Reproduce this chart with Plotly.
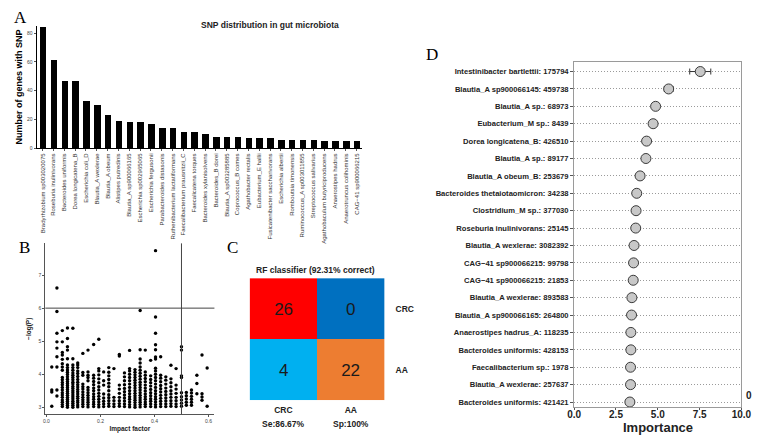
import plotly.graph_objects as go

W, H = 760, 436

# ---------------- Panel A data ----------------
a_species = [
    "Bradyrhizobium sp003020075", "Roseburia inulinivorans", "Bacteroides uniformis",
    "Dorea longicatena_B", "Escherichia coli_D", "Blautia_A wexlerae", "Blautia_A obeum",
    "Alistipes putredinis", "Blautia_A sp900066165", "Escherichia sp002965065",
    "Escherichia fergusonii", "Parabacteroides distasonis", "Ruthenibacterium lactatiformans",
    "Faecalibacterium prausnitzii_C", "Faecalicatena torques", "Bacteroides xylanisolvens",
    "Bacteroides_B dorei", "Blautia_A sp003285885", "Coprococcus_B comes",
    "Agathobacter rectalis", "Eubacterium_E hallii", "Fusicatenibacter saccharivorans",
    "Escherichia albertii", "Romboutsia timonensis", "Ruminococcus_A sp003011855",
    "Streptococcus salivarius", "Agathobaculum butyriciproducens", "Anaerostipes hadrus",
    "Anaerotruncus colihominis", "CAG\u221241 sp900066215",
]
a_counts = [84, 61, 47, 47, 33, 30, 23, 19, 18, 18, 17, 14, 14, 11, 11, 10, 8, 8, 8,
            7, 7, 7, 6, 6, 6, 6, 5, 5, 5, 5]
a_yticks = [0, 20, 40, 60, 80]

# ---------------- Panel B data (impact factor column, -log(P) values) ----------------
b_columns = [
    (0.020, [3.03, 3.46, 3.52, 4.22]),
    (0.039, [3.34, 3.52, 4.22, 4.53, 4.79, 4.98, 5.24, 5.90, 6.61]),
    (0.059, [3.02, 3.08, 3.15, 3.22, 3.30, 3.37, 3.44, 3.52, 3.60, 3.68, 3.75, 3.83, 3.90,
             4.12, 4.22, 4.32, 4.45, 4.58, 4.66, 4.98, 5.32]),
    (0.078, [3.00, 3.06, 3.12, 3.18, 3.24, 3.30, 3.36, 3.42, 3.48, 3.54, 3.60, 3.66, 3.72,
             3.78, 3.85, 3.92, 3.99, 4.06, 4.13, 4.20, 4.28, 4.47, 4.73, 4.83, 5.08, 5.40]),
    (0.098, [3.00, 3.06, 3.12, 3.18, 3.25, 3.31, 3.37, 3.44, 3.50, 3.57, 3.63, 3.70, 3.76,
             3.83, 3.90, 3.97, 4.04, 4.12, 4.20, 4.28, 4.47, 5.39]),
    (0.116, [3.01, 3.07, 3.14, 3.20, 3.27, 3.33, 3.40, 3.47, 3.54, 3.61, 3.68, 3.76, 3.84,
             3.93, 4.02, 4.10, 4.20, 4.28, 4.34]),
    (0.135, [3.02, 3.09, 3.16, 3.23, 3.30, 3.38, 3.46, 3.55, 3.62, 3.70, 3.97, 4.05, 4.63]),
    (0.154, [3.01, 3.08, 3.15, 3.22, 3.29, 3.36, 3.44, 3.52, 3.60, 3.80, 3.90, 3.97, 4.07, 4.73]),
    (0.175, [3.02, 3.09, 3.16, 3.24, 3.32, 3.40, 3.50, 3.58, 3.68, 3.78, 3.88, 3.97, 4.90]),
    (0.194, [3.01, 3.08, 3.16, 3.24, 3.33, 3.42, 3.52, 3.62, 3.74, 3.86, 3.98, 4.10, 4.17, 5.06]),
    (0.212, [3.02, 3.10, 3.18, 3.28, 3.40, 3.67, 3.80, 4.07]),
    (0.231, [3.03, 3.11, 3.20, 3.29, 3.38, 3.50, 3.62, 3.73, 3.84, 3.95, 4.06, 4.20]),
    (0.250, [3.02, 3.10, 3.20, 3.30, 4.17]),
    (0.270, [3.03, 3.11, 3.20, 3.30, 3.42, 3.55, 3.67, 4.55, 4.60]),
    (0.289, [3.02, 3.10, 3.19, 3.28, 3.37, 3.47, 3.57, 3.68, 3.80, 3.92, 4.04]),
    (0.308, [3.01, 3.08, 3.16, 3.24, 3.32, 3.41, 3.50, 3.60, 3.70, 3.80, 3.90, 4.00, 4.10,
             4.17, 4.72]),
    (0.328, [3.00, 3.07, 3.14, 3.21, 3.28, 3.35, 3.42, 3.50, 3.58, 3.66, 3.74, 3.82, 3.90,
             3.98, 4.06, 4.14]),
    (0.347, [3.01, 3.08, 3.15, 3.22, 3.29, 3.36, 3.44, 3.52, 3.60, 3.68, 3.76, 3.85, 3.94,
             4.03, 4.12, 4.22, 4.34, 4.46, 4.74, 5.93]),
    (0.366, [3.02, 3.09, 3.16, 3.24, 3.32, 3.40, 3.49, 3.58, 3.67, 3.77, 3.87, 3.97, 4.07, 4.73]),
    (0.386, [3.02, 3.10, 3.18, 3.26, 3.35, 3.44, 3.54, 3.64, 3.74, 3.84, 3.95, 4.42]),
    (0.404, [3.01, 3.08, 3.16, 3.24, 3.32, 3.41, 3.50, 3.60, 3.70, 3.80, 3.90, 4.00, 4.10,
             4.18, 4.46, 4.52, 4.74, 4.89, 5.24, 5.73, 7.74]),
    (0.423, [3.02, 3.10, 3.18, 3.27, 3.36, 3.46, 3.56, 3.66, 3.77, 3.88, 3.97, 4.53]),
    (0.442, [3.02, 3.10, 3.19, 3.28, 3.38, 3.48, 3.58, 3.70, 3.82, 3.92]),
    (0.461, [3.03, 3.11, 3.20, 3.30, 3.40, 3.50, 3.62, 3.74, 3.86, 4.27]),
    (0.480, [3.02, 3.10, 3.20, 3.30, 3.42, 3.55, 3.67, 4.17]),
    (0.500, [3.03, 3.12, 3.22, 3.32, 3.44, 3.90, 3.95, 4.73, 4.83]),
    (0.518, [3.06, 3.15, 3.25, 3.35, 3.45]),
    (0.537, [3.06, 3.15, 3.24, 3.33, 3.43, 3.52]),
    (0.557, [3.41, 3.72, 3.97]),
    (0.576, [3.21, 3.31, 3.41, 4.58]),
    (0.595, [3.03, 4.19]),
]
b_hline = 6.0
b_vline = 0.5
b_xticks = [0.0, 0.2, 0.4, 0.6]
b_yticks = [3, 4, 5, 6, 7]

# ---------------- Panel C data ----------------
c_classes = ["CRC", "AA"]
c_counts = [[26, 0], [4, 22]]
c_cell_index = [[0, 1], [2, 3]]
c_cell_colors = ["#FF0000", "#0070C0", "#00B0F0", "#ED7D31"]
c_title = "RF classifier (92.31% correct)"
c_metrics = ["Se:86.67%", "Sp:100%"]

# ---------------- Panel D data ----------------
d_features = [
    "Intestinibacter bartlettii: 175794", "Blautia_A sp900066145: 459738",
    "Blautia_A sp.: 68973", "Eubacterium_M sp.: 8439", "Dorea longicatena_B: 426510",
    "Blautia_A sp.: 89177", "Blautia_A obeum_B: 253679",
    "Bacteroides thetaiotaomicron: 34238", "Clostridium_M sp.: 377030",
    "Roseburia inulinivorans: 25145", "Blautia_A wexlerae: 3082392",
    "CAG\u221241 sp900066215: 99798", "CAG\u221241 sp900066215: 21853",
    "Blautia_A wexlerae: 893583", "Blautia_A sp900066165: 264800",
    "Anaerostipes hadrus_A: 118235", "Bacteroides uniformis: 428153",
    "Faecalibacterium sp.: 1978", "Blautia_A wexlerae: 257637",
    "Bacteroides uniformis: 421421",
]
d_importance = [7.54, 5.65, 4.87, 4.72, 4.33, 4.29, 3.94, 3.74, 3.70, 3.68, 3.58, 3.55,
                3.53, 3.45, 3.43, 3.39, 3.39, 3.37, 3.37, 3.33]
d_err = [0.63, 0.26, 0.16, 0.1, 0.08, 0.08, 0.1, 0.06, 0.06, 0.06, 0.06, 0.06, 0.08,
         0.06, 0.06, 0.06, 0.06, 0.06, 0.06, 0.06]
d_xticks = [0.0, 2.5, 5.0, 7.5, 10.0]

FONT = "Liberation Sans, Arial, sans-serif"
SERIF = "Liberation Serif, Times New Roman, serif"


def px_x(x0, x1):
    return [x0 / W, x1 / W]


def px_y(y_top, y_bot):
    return [1 - y_bot / H, 1 - y_top / H]


fig = go.Figure()

# Panel A bars
fig.add_trace(go.Bar(x=a_species, y=a_counts, marker=dict(color="black", line=dict(width=0)),
                     width=0.6, xaxis="x", yaxis="y", showlegend=False))

# Panel B scatter
bx, by = [], []
for xv, ys in b_columns:
    for yv in ys:
        bx.append(xv)
        by.append(yv)
fig.add_trace(go.Scatter(x=bx, y=by, mode="markers", marker=dict(color="black", size=3.4),
                         xaxis="x2", yaxis="y2", showlegend=False))

# Panel C confusion matrix
fig.add_trace(go.Heatmap(
    z=c_cell_index, x=c_classes, y=c_classes, text=c_counts, texttemplate="%{text}",
    textfont=dict(size=17, color="#1a1a1a", family=FONT),
    colorscale=[[0.0, c_cell_colors[0]], [0.25, c_cell_colors[0]],
                [0.25, c_cell_colors[1]], [0.5, c_cell_colors[1]],
                [0.5, c_cell_colors[2]], [0.75, c_cell_colors[2]],
                [0.75, c_cell_colors[3]], [1.0, c_cell_colors[3]]],
    zmin=-0.5, zmax=3.5, showscale=False, xgap=0, ygap=0,
    xaxis="x3", yaxis="y3", hoverinfo="skip"))

# Panel D dot plot
fig.add_trace(go.Scatter(
    x=d_importance, y=d_features, mode="markers",
    marker=dict(size=10, color="#c8c8c8", line=dict(color="#3a3a3a", width=1)),
    error_x=dict(type="data", array=d_err, color="#333333", thickness=1, width=3),
    xaxis="x4", yaxis="y4", showlegend=False))

tick_small = dict(family=FONT, size=5, color="#444444")

fig.update_layout(
    width=W, height=H, margin=dict(l=0, r=0, t=0, b=0),
    paper_bgcolor="white", plot_bgcolor="white", font=dict(family=FONT),
    bargap=0,
    # A
    xaxis=dict(domain=px_x(22, 355), anchor="y", range=[-0.57, 29.5], tickangle=-90,
               tickfont=dict(family=FONT, size=6, color="#333333"), showline=True,
               linecolor="black", linewidth=1, ticks="outside", ticklen=2,
               tickcolor="#555555", showgrid=False, zeroline=False),
    yaxis=dict(domain=px_y(18, 141), anchor="x", range=[0, 85], tickvals=a_yticks,
               tickfont=tick_small, showline=True, linecolor="black", linewidth=1,
               ticks="outside", ticklen=2, tickcolor="#555555", showgrid=False,
               zeroline=False,
               title=dict(text="Number of genes with SNP", standoff=2,
                          font=dict(family=FONT, size=9, color="black", weight="bold"))),
    # B
    xaxis2=dict(domain=px_x(31, 204), anchor="y2", range=[-0.004, 0.622], tickvals=b_xticks,
                tickformat=".1f", tickfont=tick_small, showline=True, linecolor="#555555",
                linewidth=1, ticks="outside", ticklen=2, tickcolor="#555555",
                showgrid=False, zeroline=False,
                title=dict(text="Impact factor", standoff=3,
                           font=dict(family=FONT, size=6.5, color="#222222", weight="bold"))),
    yaxis2=dict(domain=px_y(237, 409), anchor="x2", range=[2.79, 7.96], tickvals=b_yticks,
                tickfont=tick_small, showline=True, linecolor="#555555", linewidth=1,
                ticks="outside", ticklen=2, tickcolor="#555555", showgrid=False,
                zeroline=False,
                title=dict(text="\u2212log(P)", standoff=6,
                           font=dict(family=FONT, size=6.5, color="#222222", weight="bold"))),
    # C
    xaxis3=dict(domain=px_x(240, 378), anchor="y3", side="bottom", showgrid=False,
                zeroline=False, showline=False, ticks="", ticklabelstandoff=3,
                tickfont=dict(family=FONT, size=8.5, color="#222222", weight="bold")),
    yaxis3=dict(domain=px_y(272, 395), anchor="x3", side="right", autorange="reversed",
                showgrid=False, zeroline=False, showline=False, ticks="",
                ticklabelstandoff=10,
                tickfont=dict(family=FONT, size=8.5, color="#222222", weight="bold")),
    # D
    xaxis4=dict(domain=px_x(572, 743), anchor="y4", range=[0, 10], tickvals=d_xticks,
                tickformat=".1f", tickfont=dict(family=FONT, size=10, color="#222222",
                                                weight="bold"),
                showline=True, mirror=True, linecolor="#9a9a9a", linewidth=1.2,
                ticks="outside", ticklen=2, tickcolor="#555555", showgrid=False,
                zeroline=False, ticklabelstandoff=-4),
    yaxis4=dict(domain=px_y(54, 402), anchor="x4", categoryorder="array",
                categoryarray=d_features, range=[19.3, -0.57],
                tickfont=dict(family=FONT, size=7.6, color="#222222", weight="bold"),
                showline=True, mirror=True, linecolor="#9a9a9a", linewidth=1.2,
                ticks="outside", ticklen=3, tickcolor="#555555",
                showgrid=True, gridcolor="#9a9a9a", griddash="1px,2px", gridwidth=1,
                zeroline=False),
)

# Reference lines in panel B
fig.add_shape(type="line", xref="x2 domain", yref="y2", x0=0, x1=1, y0=b_hline, y1=b_hline,
              line=dict(color="#444444", width=1))
fig.add_shape(type="line", xref="x2", yref="y2 domain", x0=b_vline, x1=b_vline, y0=0, y1=1,
              line=dict(color="#444444", width=1))

annotations = [
    dict(text="SNP distribution in gut microbiota", x=188 / W, y=1 - 10 / H, xref="paper",
         yref="paper", showarrow=False,
         font=dict(family=FONT, size=8.5, color="#222222", weight="bold")),
    dict(text=c_title, x=307 / W, y=1 - 264 / H, xref="paper", yref="paper", showarrow=False,
         font=dict(family=FONT, size=8.5, color="#222222", weight="bold")),
    dict(text=c_metrics[0], x=c_classes[0], y=1 - 426 / H, xref="x3", yref="paper",
         showarrow=False, font=dict(family=FONT, size=8.5, color="#222222", weight="bold")),
    dict(text=c_metrics[1], x=c_classes[1], y=1 - 426 / H, xref="x3", yref="paper",
         showarrow=False, font=dict(family=FONT, size=8.5, color="#222222", weight="bold")),
    dict(text="Importance", x=0.5, y=1 - 422 / H, xref="x4 domain", yref="paper",
         showarrow=False, yanchor="middle", borderpad=0,
         font=dict(family=FONT, size=13, color="#222222", weight="bold")),
    dict(text="0", x=756 / W, y=1 - 398 / H, xref="paper", yref="paper", showarrow=False,
         font=dict(family=FONT, size=10, color="#222222", weight="bold")),
]
for lab, (lx, ly) in zip(["A", "B", "C", "D"], [(6, 10), (10, 241), (222, 241), (427, 47)]):
    annotations.append(dict(text=lab, x=lx / W, y=1 - ly / H, xref="paper", yref="paper",
                            showarrow=False, xanchor="center", yanchor="middle",
                            font=dict(family=SERIF, size=17, color="black")))
fig.update_layout(annotations=annotations)

fig.write_html("out.html")
